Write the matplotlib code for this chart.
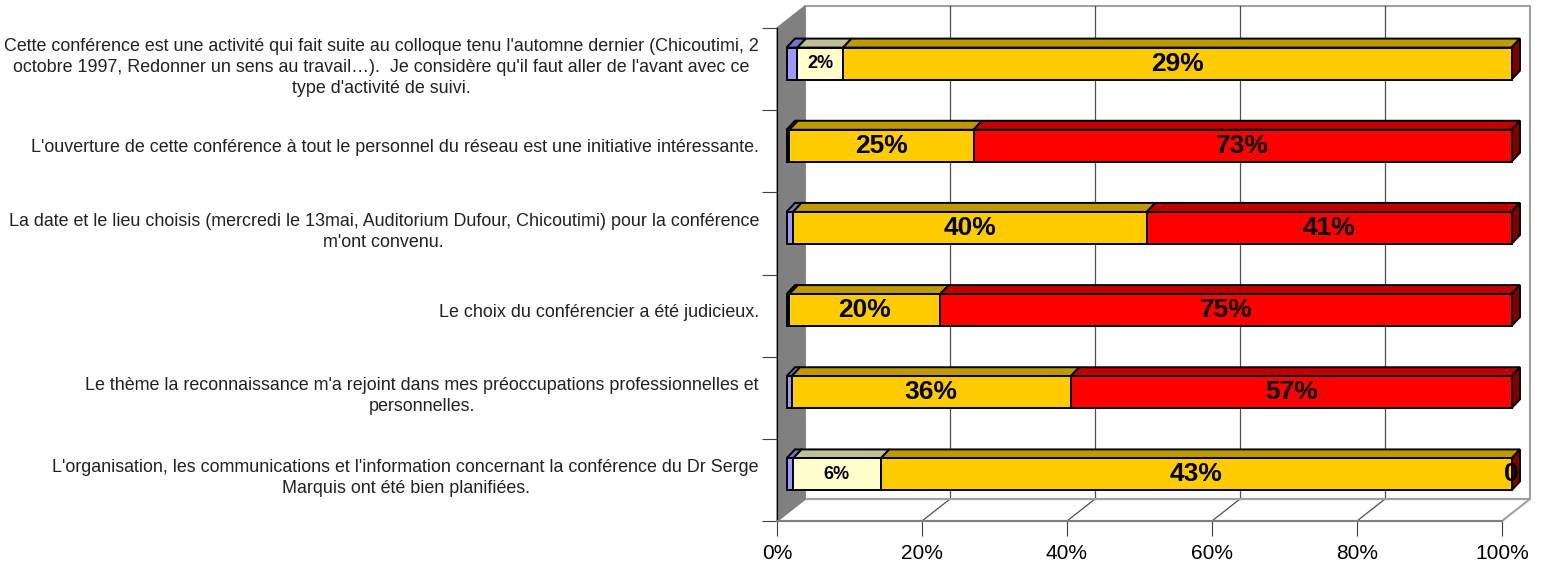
import matplotlib
matplotlib.use("Agg")
import matplotlib.pyplot as plt
from matplotlib.patches import Polygon

plt.rcParams['font.family'] = ['Liberation Sans', 'DejaVu Sans']

# categories listed top to bottom
categories = [
    "Cette conférence est une activité qui fait suite au colloque tenu l'automne dernier (Chicoutimi, 2\n"
    "octobre 1997, Redonner un sens au travail…).  Je considère qu'il faut aller de l'avant avec ce\n"
    "type d'activité de suivi.",
    "L'ouverture de cette conférence à tout le personnel du réseau est une initiative intéressante.",
    "La date et le lieu choisis (mercredi le 13mai, Auditorium Dufour, Chicoutimi) pour la conférence\n"
    "m'ont convenu.",
    "Le choix du conférencier a été judicieux.",
    "Le thème la reconnaissance m'a rejoint dans mes préoccupations professionnelles et\n"
    "personnelles.",
    "L'organisation, les communications et l'information concernant la conférence du Dr Serge\n"
    "Marquis ont été bien planifiées.",
]

# share of each bar (percent of the 100% stacked bar)
blue = [1.5, 0.4, 0.9, 0.4, 0.7, 0.9]
cream = [6.3, 0.0, 0.0, 0.0, 0.0, 12.1]
yellow = [92.2, 25.4, 48.8, 20.8, 38.5, 87.0]
red = [0.0, 74.2, 50.3, 78.8, 60.8, 0.0]

# data labels shown on the segments
cream_lbl = ["2%", "", "", "", "", "6%"]
yellow_lbl = ["29%", "25%", "40%", "20%", "36%", "43%"]
red_lbl = ["", "73%", "41%", "75%", "57%", "0"]

xticks = [0, 20, 40, 60, 80, 100]
xticklabels = ["0%", "20%", "40%", "60%", "80%", "100%"]

W, H = 1544, 567
fig = plt.figure(figsize=(W / 100, H / 100), dpi=100)
x0, x1, ytop, ybot = 777, 1502, 28, 521
ax = fig.add_axes([x0 / W, (H - ybot) / H, (x1 - x0) / W, (ybot - ytop) / H])
n = len(categories)
ax.set_xlim(0, 100)
ax.set_ylim(0, n)

# pixel -> data scale
sx = (x1 - x0) / 100.0
sy = (ybot - ytop) / n

# wall depth, bar position and depth
dx, dy = 28 / sx, 22 / sy
bx, by = 9.5 / sx, 5.5 / sy
ddx, ddy = 8.5 / sx, 9 / sy
bh = 32 / sy

# back wall, floor, side wall
ax.add_patch(Polygon([(dx, dy), (100 + dx, dy), (100 + dx, n + dy), (dx, n + dy)],
                     closed=True, fc='white', ec='#a0a0a0', lw=1.5, clip_on=False, zorder=0))
for xt in xticks[1:-1]:
    ax.plot([xt + dx, xt + dx], [dy, n + dy], color='#505050', lw=0.9, clip_on=False, zorder=1)
    ax.plot([xt, xt + dx], [0, dy], color='#505050', lw=0.9, clip_on=False, zorder=1)
ax.add_patch(Polygon([(0, 0), (100, 0), (100 + dx, dy), (dx, dy)],
                     closed=True, fc='none', ec='#a0a0a0', lw=1.5, clip_on=False, zorder=1))
ax.add_patch(Polygon([(0, 0), (0, n), (dx, n + dy), (dx, dy)],
                     closed=True, fc='#808080', ec='#808080', lw=1, clip_on=False, zorder=1))

series = [
    (blue, '#9999FF', '#7373D0', None),
    (cream, '#FFFFCC', '#BFBF99', cream_lbl),
    (yellow, '#FFCC00', '#BF9900', yellow_lbl),
    (red, '#FF0000', '#C00000', red_lbl),
]

ypos = [n - 1 - i + 0.5 for i in range(n)]
left = [0.0] * n
for vals, fc, topc, labels in series:
    yc = [y + by for y in ypos]
    ax.barh(yc, vals, left=[l + bx for l in left], height=bh, color=fc,
            edgecolor='black', linewidth=1.4, clip_on=False, zorder=3)
    for i in range(n):
        a = left[i] + bx
        b = a + vals[i]
        top = yc[i] + bh / 2
        if vals[i] > 0:
            ax.add_patch(Polygon([(a, top), (b, top), (b + ddx, top + ddy), (a + ddx, top + ddy)],
                                 closed=True, fc=topc, ec='black', lw=1.4, clip_on=False, zorder=2))
        if labels and labels[i]:
            small = vals[i] < 15 and labels[i] != "0"
            ax.text((a + b) / 2, yc[i], labels[i], ha='center', va='center',
                    fontsize=13 if small else 19, fontweight='bold', zorder=5, clip_on=False)
    left = [l + v for l, v in zip(left, vals)]

# right end faces
for i in range(n):
    b = left[i] + bx
    yc = ypos[i] + by
    ax.add_patch(Polygon([(b, yc - bh / 2), (b, yc + bh / 2), (b + ddx, yc + bh / 2 + ddy),
                          (b + ddx, yc - bh / 2 + ddy)],
                         closed=True, fc='#800000', ec='black', lw=1.4, clip_on=False, zorder=2))

# axes
for s in ['top', 'right']:
    ax.spines[s].set_visible(False)
ax.spines['left'].set_color('black')
ax.spines['bottom'].set_color('#808080')
ax.spines['bottom'].set_linewidth(1.5)
ax.set_xticks(xticks, xticklabels)
ax.tick_params(axis='x', length=10.8, color='#404040', labelsize=15, pad=6)
ax.set_yticks(range(n + 1), [''] * (n + 1))
ax.tick_params(axis='y', which='major', length=10.8, color='#404040')
ax.set_yticks([y + by for y in ypos], categories, minor=True)
ax.tick_params(axis='y', which='minor', length=0, pad=13, labelsize=12.9, labelcolor='#222222')
for t in ax.get_yticklabels(minor=True):
    t.set_multialignment('center')
    t.set_linespacing(1.28)

fig.savefig('out.png', dpi=100)
